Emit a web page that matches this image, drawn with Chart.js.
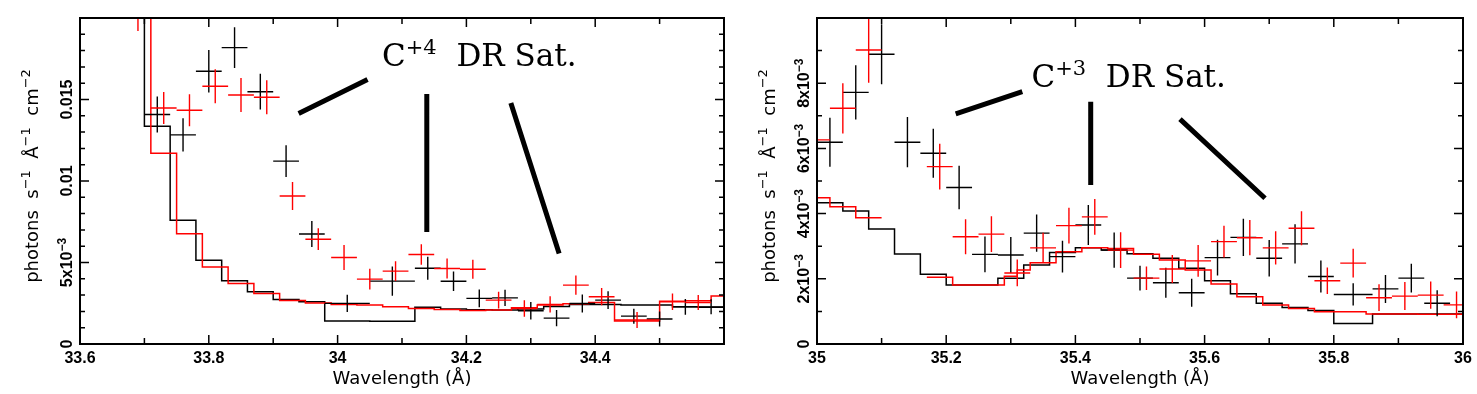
<!DOCTYPE html>
<html>
<head>
<meta charset="utf-8">
<script src="https://cdn.jsdelivr.net/npm/chart.js@4.4.1/dist/chart.umd.min.js"></script>
<style>
  html, body { margin: 0; padding: 0; background: #fff; }
  .panel { position: absolute; top: 0; height: 394px; }
  #left { left: 0; width: 737px; }
  #right { left: 737px; width: 740px; }
</style>
</head>
<body>
<div class="panel" id="left"><canvas id="c4" width="737" height="394"></canvas></div>
<div class="panel" id="right"><canvas id="c3" width="740" height="394"></canvas></div>
<script>
// ---- C+4 panel (33.6 - 34.6 A) ----
const leftBlackWave = [33.72, 33.76, 33.80, 33.84, 33.88, 33.92, 33.96, 34.015, 34.085, 34.14, 34.18, 34.22, 34.26, 34.30, 34.34, 34.38, 34.42, 34.46, 34.50, 34.54, 34.58];
const leftBlackHalf = [0.02, 0.02, 0.02, 0.02, 0.02, 0.02, 0.02, 0.035, 0.035, 0.02, 0.02, 0.02, 0.02, 0.02, 0.02, 0.02, 0.02, 0.02, 0.02, 0.02, 0.02];
const leftBlackFlux = [0.01408, 0.01283, 0.01673, 0.01818, 0.01548, 0.01122, 0.00675, 0.00249, 0.00386, 0.00465, 0.00385, 0.0028, 0.00283, 0.00204, 0.00159, 0.00249, 0.00269, 0.00171, 0.00153, 0.00228, 0.00228];
const leftBlackErr = [0.0011, 0.00102, 0.0013, 0.00125, 0.0011, 0.00097, 0.0008, 0.00053, 0.0009, 0.00071, 0.0006, 0.00055, 0.0005, 0.00053, 0.0005, 0.00055, 0.00055, 0.00046, 0.00046, 0.00048, 0.00046];

const leftRedWave = [33.69, 33.73, 33.77, 33.81, 33.85, 33.89, 33.93, 33.97, 34.01, 34.05, 34.09, 34.13, 34.17, 34.21, 34.25, 34.29, 34.33, 34.37, 34.41, 34.465, 34.52, 34.56];
const leftRedHalf = [0.02, 0.02, 0.02, 0.02, 0.02, 0.02, 0.02, 0.02, 0.02, 0.02, 0.02, 0.02, 0.02, 0.02, 0.02, 0.02, 0.02, 0.02, 0.02, 0.035, 0.02, 0.02];
const leftRedFlux = [0.0225, 0.01448, 0.01434, 0.01581, 0.01528, 0.01514, 0.00908, 0.00643, 0.00531, 0.00398, 0.00447, 0.00549, 0.00463, 0.00459, 0.00269, 0.00218, 0.00243, 0.00361, 0.0029, 0.00147, 0.00259, 0.00255];
const leftRedErr = [0.0033, 0.00098, 0.00098, 0.00104, 0.00104, 0.00104, 0.00086, 0.00067, 0.00077, 0.00064, 0.00061, 0.00063, 0.00061, 0.00058, 0.00051, 0.00051, 0.0005, 0.00059, 0.00053, 0.00049, 0.00051, 0.00046];

const leftBlackModelEdges = [33.66, 33.70, 33.74, 33.78, 33.82, 33.86, 33.90, 33.94, 33.98, 34.05, 34.12, 34.16, 34.20, 34.24, 34.28, 34.32, 34.36, 34.40, 34.44, 34.48, 34.52, 34.56, 34.60];
const leftBlackModelFlux = [0.03, 0.01336, 0.00759, 0.00514, 0.00388, 0.0032, 0.00273, 0.00259, 0.00141, 0.00139, 0.00225, 0.00215, 0.0021, 0.00208, 0.00215, 0.0023, 0.00243, 0.00243, 0.00239, 0.00239, 0.00228, 0.00225];
const leftRedModelEdges = [33.67, 33.71, 33.75, 33.79, 33.83, 33.87, 33.91, 33.95, 33.99, 34.03, 34.07, 34.11, 34.15, 34.19, 34.23, 34.27, 34.31, 34.35, 34.39, 34.43, 34.50, 34.54, 34.58, 34.62];
const leftRedModelFlux = [0.03, 0.01171, 0.00677, 0.00473, 0.00371, 0.0031, 0.00267, 0.00251, 0.00243, 0.00239, 0.00228, 0.00218, 0.00212, 0.00206, 0.00208, 0.00222, 0.00239, 0.00247, 0.00255, 0.00141, 0.00263, 0.00265, 0.00294];

const leftXTicks = [33.6, 33.8, 34, 34.2, 34.4];
const leftXTickText = ["33.6", "33.8", "34", "34.2", "34.4"];
const leftYTicks = [0, 0.005, 0.01, 0.015];
const leftYTickText = [["0"], ["5x10", "\u22123"], ["0.01"], ["0.015"]];

// ---- C+3 panel (35 - 36 A) ----
const rightBlackWave = [35.02, 35.06, 35.10, 35.14, 35.18, 35.22, 35.26, 35.30, 35.34, 35.38, 35.42, 35.46, 35.50, 35.54, 35.58, 35.62, 35.66, 35.70, 35.74, 35.78, 35.83, 35.88, 35.92, 35.96];
const rightBlackHalf = [0.02, 0.02, 0.02, 0.02, 0.02, 0.02, 0.02, 0.02, 0.02, 0.02, 0.02, 0.02, 0.02, 0.02, 0.02, 0.02, 0.02, 0.02, 0.02, 0.02, 0.03, 0.02, 0.02, 0.02];
const rightBlackFlux = [0.00619, 0.00772, 0.00889, 0.00619, 0.00585, 0.0048, 0.00275, 0.00273, 0.0034, 0.00268, 0.00365, 0.00288, 0.00202, 0.00188, 0.00157, 0.00265, 0.00327, 0.00263, 0.00307, 0.00207, 0.00152, 0.00169, 0.00202, 0.00125];
const rightBlackErr = [0.00075, 0.00083, 0.00092, 0.00077, 0.00075, 0.00067, 0.00055, 0.00055, 0.00057, 0.00049, 0.00061, 0.00054, 0.00038, 0.00046, 0.00043, 0.00055, 0.00057, 0.00056, 0.0006, 0.00049, 0.00034, 0.00043, 0.00044, 0.0004];

const rightRedWave = [35.00, 35.04, 35.08, 35.19, 35.23, 35.27, 35.31, 35.35, 35.39, 35.43, 35.47, 35.51, 35.55, 35.59, 35.63, 35.67, 35.71, 35.75, 35.79, 35.83, 35.87, 35.91, 35.95, 35.99];
const rightRedHalf = [0.02, 0.02, 0.02, 0.02, 0.02, 0.02, 0.02, 0.02, 0.02, 0.02, 0.02, 0.02, 0.02, 0.02, 0.02, 0.02, 0.02, 0.02, 0.02, 0.02, 0.02, 0.02, 0.02, 0.02];
const rightRedFlux = [0.00626, 0.00723, 0.00902, 0.00544, 0.00329, 0.00337, 0.00218, 0.00295, 0.00363, 0.0039, 0.00288, 0.00202, 0.0023, 0.00255, 0.00314, 0.00326, 0.00295, 0.00355, 0.00194, 0.00248, 0.00142, 0.00147, 0.0015, 0.0012];
const rightRedErr = [0.00066, 0.00077, 0.00101, 0.0007, 0.00054, 0.00055, 0.00041, 0.00046, 0.00055, 0.00055, 0.00055, 0.00036, 0.00043, 0.00049, 0.00049, 0.00054, 0.00051, 0.00052, 0.00041, 0.00044, 0.00041, 0.00043, 0.00042, 0.00041];

const rightBlackModelEdges = [35.00, 35.04, 35.08, 35.12, 35.16, 35.20, 35.24, 35.28, 35.32, 35.36, 35.40, 35.44, 35.48, 35.52, 35.56, 35.60, 35.64, 35.68, 35.72, 35.76, 35.80, 35.86, 36.00];
const rightBlackModelFlux = [0.00433, 0.00408, 0.00353, 0.00276, 0.00214, 0.00181, 0.00181, 0.00202, 0.00242, 0.00281, 0.00295, 0.00288, 0.00277, 0.00263, 0.00232, 0.00194, 0.00154, 0.00125, 0.00112, 0.00103, 0.00063, 0.00092];
const rightRedModelEdges = [34.98, 35.02, 35.06, 35.10, 35.17, 35.21, 35.25, 35.29, 35.31, 35.33, 35.37, 35.41, 35.45, 35.49, 35.53, 35.57, 35.61, 35.65, 35.69, 35.73, 35.77, 35.85, 35.93, 36.01];
const rightRedModelFlux = [0.00449, 0.00421, 0.00387, null, 0.00205, 0.00181, 0.00181, 0.00208, 0.00227, 0.00249, 0.00283, 0.00295, 0.00293, 0.00275, 0.00258, 0.00227, 0.00184, 0.00145, 0.0012, 0.00109, 0.00099, 0.00092, 0.00091];

const rightXTicks = [35, 35.2, 35.4, 35.6, 35.8, 36];
const rightXTickText = ["35", "35.2", "35.4", "35.6", "35.8", "36"];
const rightYTicks = [0, 0.002, 0.004, 0.006, 0.008];
const rightYTickText = [["0"], ["2x10", "\u22123"], ["4x10", "\u22123"], ["6x10", "\u22123"], ["8x10", "\u22123"]];

const yTitle = ["photons  s", "\u22121", "  \u00c5", "\u22121", "  cm", "\u22122"];
const xTitle = ["Wavelength (\u00c5)"];

const RED = "#ff0000";

// error-bar crosses as broken line segments
function crosses(wave, half, flux, err) {
  const pts = [];
  wave.forEach((w, i) => {
    pts.push({ x: w - half[i], y: flux[i] }, { x: w + half[i], y: flux[i] }, { x: w, y: null });
    pts.push({ x: w, y: flux[i] - err[i] }, { x: w, y: flux[i] + err[i] }, { x: w, y: null });
  });
  return pts;
}

// histogram: vals[i] spans edges[i]..edges[i+1], null = gap
function steps(edges, vals) {
  const pts = [];
  vals.forEach((v, i) => {
    if (v === null) pts.push({ x: edges[i], y: vals[i - 1] }, { x: edges[i], y: null });
    else pts.push({ x: edges[i], y: v });
  });
  pts.push({ x: edges[edges.length - 1], y: vals[vals.length - 1] });
  return pts;
}

// text with superscripts: odd entries are raised
function rich(ctx, parts, x, y, align, font, supFont, rise) {
  let w = 0;
  parts.forEach((t, i) => { ctx.font = i % 2 ? supFont : font; w += ctx.measureText(t).width; });
  let cx = align === "center" ? x - w / 2 : x;
  ctx.textAlign = "left";
  ctx.textBaseline = "alphabetic";
  parts.forEach((t, i) => {
    ctx.font = i % 2 ? supFont : font;
    ctx.fillText(t, cx, i % 2 ? y - rise : y);
    cx += ctx.measureText(t).width;
  });
}

const axesPlugin = {
  id: "axes",
  afterDraw(chart, args, o) {
    const { ctx, chartArea: a, scales: { x, y } } = chart;
    ctx.save();
    ctx.strokeStyle = "#000";
    ctx.fillStyle = "#000";

    // inward ticks on all four sides
    ctx.lineWidth = 1.5;
    ctx.beginPath();
    for (let k = Math.ceil(x.min / o.xMinor - 1e-6); k * o.xMinor <= x.max + 1e-9; k++) {
      const v = k * o.xMinor;
      const len = Math.abs(v / o.xMajor - Math.round(v / o.xMajor)) < 1e-6 ? 9 : 6;
      const px = x.getPixelForValue(v);
      ctx.moveTo(px, a.bottom); ctx.lineTo(px, a.bottom - len);
      ctx.moveTo(px, a.top); ctx.lineTo(px, a.top + len);
    }
    for (let k = Math.ceil(y.min / o.yMinor - 1e-6); k * o.yMinor <= y.max + 1e-12; k++) {
      const v = k * o.yMinor;
      const len = Math.abs(v / o.yMajor - Math.round(v / o.yMajor)) < 1e-6 ? 9 : 5;
      const py = y.getPixelForValue(v);
      ctx.moveTo(a.left, py); ctx.lineTo(a.left + len, py);
      ctx.moveTo(a.right, py); ctx.lineTo(a.right - len, py);
    }
    ctx.stroke();

    ctx.lineWidth = 2;
    ctx.strokeRect(a.left, a.top, a.right - a.left, a.bottom - a.top);

    // tick labels
    const tf = 'bold 16px "Liberation Sans"';
    o.xTicks.forEach((v, i) => rich(ctx, [o.xTickText[i]], x.getPixelForValue(v), a.bottom + 19, "center", tf, tf, 0));
    o.yTicks.forEach((v, i) => {
      ctx.save();
      ctx.translate(a.left - 8, y.getPixelForValue(v));
      ctx.rotate(-Math.PI / 2);
      rich(ctx, o.yTickText[i], 0, 0, "center", tf, 'bold 12px "Liberation Sans"', 6);
      ctx.restore();
    });

    // axis titles
    const af = '18px "DejaVu Sans"';
    rich(ctx, xTitle, (a.left + a.right) / 2, a.bottom + 40, "center", af, af, 0);
    ctx.save();
    ctx.translate(a.left - 42, (a.top + a.bottom) / 2 - 5);
    ctx.rotate(-Math.PI / 2);
    rich(ctx, yTitle, 0, 0, "center", af, '13px "DejaVu Sans"', 8);
    ctx.restore();

    // DR satellite annotation
    ctx.lineWidth = 5;
    ctx.lineCap = "butt";
    ctx.beginPath();
    o.notes.forEach(([x0, y0, x1, y1]) => {
      ctx.moveTo(x.getPixelForValue(x0), y.getPixelForValue(y0));
      ctx.lineTo(x.getPixelForValue(x1), y.getPixelForValue(y1));
    });
    ctx.stroke();
    rich(ctx, o.label, x.getPixelForValue(o.labelAt[0]), y.getPixelForValue(o.labelAt[1]), "left",
      '31px "DejaVu Serif"', '21px "DejaVu Serif"', 12);
    ctx.restore();
  }
};

function makeChart(id, p) {
  const line = { pointRadius: 0, clip: 0, fill: false };
  return new Chart(document.getElementById(id), {
    type: "line",
    data: {
      datasets: [
        { ...line, data: crosses(p.redWave, p.redHalf, p.redFlux, p.redErr), borderColor: RED, borderWidth: 1.4 },
        { ...line, data: crosses(p.blackWave, p.blackHalf, p.blackFlux, p.blackErr), borderColor: "#000", borderWidth: 1.4 },
        { ...line, data: steps(p.redEdges, p.redModel), stepped: "before", borderColor: RED, borderWidth: 1.5 },
        { ...line, data: steps(p.blackEdges, p.blackModel), stepped: "before", borderColor: "#000", borderWidth: 1.5 }
      ]
    },
    options: {
      responsive: false,
      animation: false,
      events: [],
      layout: { padding: { left: 80, top: 18, right: p.padRight, bottom: 50 } },
      plugins: { legend: { display: false }, tooltip: { enabled: false }, axes: p.axes },
      scales: {
        x: { type: "linear", display: false, min: p.xMin, max: p.xMax },
        y: { type: "linear", display: false, min: 0, max: p.yMax }
      }
    },
    plugins: [axesPlugin]
  });
}

makeChart("c4", {
  redWave: leftRedWave, redHalf: leftRedHalf, redFlux: leftRedFlux, redErr: leftRedErr,
  blackWave: leftBlackWave, blackHalf: leftBlackHalf, blackFlux: leftBlackFlux, blackErr: leftBlackErr,
  redEdges: leftRedModelEdges, redModel: leftRedModelFlux,
  blackEdges: leftBlackModelEdges, blackModel: leftBlackModelFlux,
  xMin: 33.6, xMax: 34.6, yMax: 0.02, padRight: 13,
  axes: {
    xMajor: 0.2, xMinor: 0.1, yMajor: 0.005, yMinor: 0.001,
    xTicks: leftXTicks, xTickText: leftXTickText, yTicks: leftYTicks, yTickText: leftYTickText,
    label: ["C", "+4", "  DR Sat."], labelAt: [34.069, 0.01707],
    notes: [[33.9395, 0.01414, 34.0465, 0.01622], [34.1385, 0.01534, 34.1385, 0.00687], [34.269, 0.01479, 34.344, 0.00555]]
  }
});

makeChart("c3", {
  redWave: rightRedWave, redHalf: rightRedHalf, redFlux: rightRedFlux, redErr: rightRedErr,
  blackWave: rightBlackWave, blackHalf: rightBlackHalf, blackFlux: rightBlackFlux, blackErr: rightBlackErr,
  redEdges: rightRedModelEdges, redModel: rightRedModelFlux,
  blackEdges: rightBlackModelEdges, blackModel: rightBlackModelFlux,
  xMin: 35, xMax: 36, yMax: 0.01, padRight: 14,
  axes: {
    xMajor: 0.2, xMinor: 0.1, yMajor: 0.002, yMinor: 0.001,
    xTicks: rightXTicks, xTickText: rightXTickText, yTicks: rightYTicks, yTickText: rightYTickText,
    label: ["C", "+3", "  DR Sat."], labelAt: [35.332, 0.00788],
    notes: [[35.2147, 0.00706, 35.3178, 0.00774], [35.4237, 0.00743, 35.4237, 0.00488], [35.5619, 0.0069, 35.6935, 0.00447]]
  }
});
</script>
</body>
</html>
